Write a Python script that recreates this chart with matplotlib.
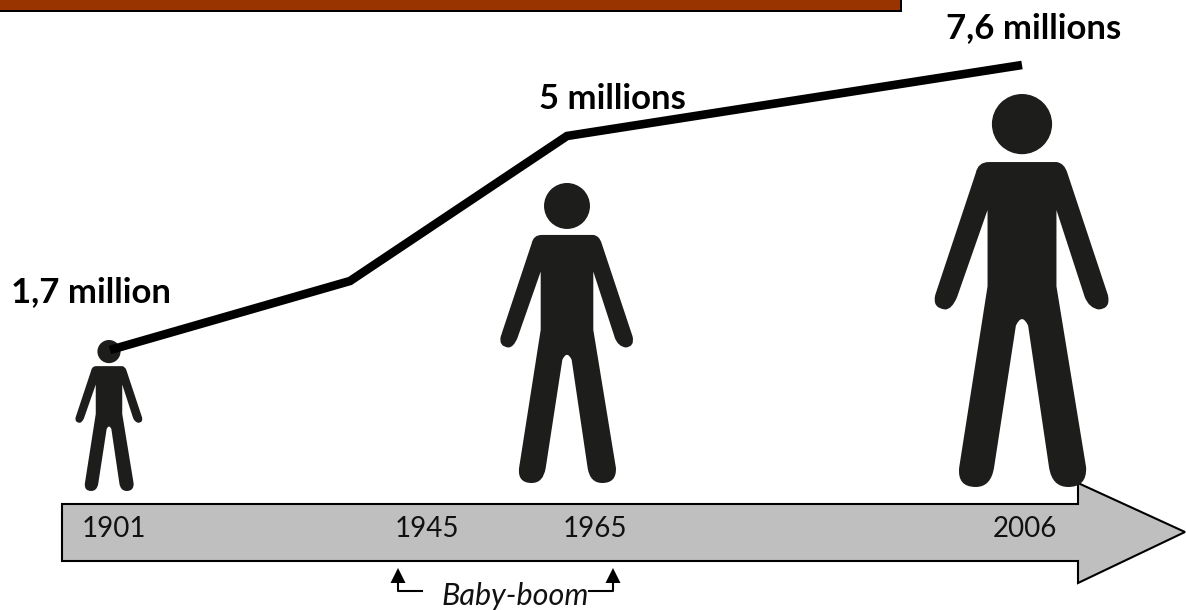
import matplotlib.pyplot as plt
from matplotlib.path import Path
from matplotlib.patches import PathPatch, Polygon, Rectangle, Circle

plt.rcParams['font.family'] = ['Lato', 'DejaVu Sans']

# growth line (pixels of the 1186x610 image)
line_x = [110, 350, 567, 1022]
line_y = [350, 281, 136, 65]

# value labels (x is the centre, y the baseline)
value_labels = ['1,7 million', '5 millions', '7,6 millions']
value_x = [91, 612, 1034]
value_y = [302, 109, 38]

# years on the big arrow
years = ['1901', '1945', '1965', '2006']
year_x = [114, 427, 595, 1025]
year_y = 537

# the three people
person_cx = [109, 567, 1022]
person_top = [340, 183, 94]
person_bottom = [491, 483, 487]

INK = '#1d1d1b'
GREY = '#bfbfbf'
BROWN = '#993300'

# outline of one person, traced at 901 units tall (head top = 0, centre x = 0)
M, L, Q = Path.MOVETO, Path.LINETO, Path.CURVE3
body = [
    (M, -76, 156), (L, 79, 156), (Q, 97, 158), (Q, 104, 181),
    (L, 197, 461), (Q, 204, 492), (Q, 176, 494), (Q, 154, 491), (Q, 144, 466),
    (L, 79, 266), (L, 79, 441), (L, 147, 856), (Q, 149, 901), (Q, 106, 901),
    (Q, 69, 901), (Q, 62, 856), (L, 14, 531), (Q, 0, 501), (Q, -14, 531),
    (L, -64, 856), (Q, -71, 901), (Q, -106, 901), (Q, -149, 901), (Q, -144, 856),
    (L, -79, 441), (L, -79, 266), (L, -149, 466), (Q, -161, 494), (Q, -176, 494),
    (Q, -206, 491), (Q, -199, 461), (L, -106, 181), (Q, -101, 156), (Q, -76, 156),
]
HEAD_Y = 69
HEAD_R = 69
UNITS = 901


def draw_person(ax, cx, top, bottom):
    """Draw one pictogram person between the given top and bottom."""
    s = (bottom - top) / UNITS
    verts = [(cx + x * s, top + y * s) for _, x, y in body]
    codes = [c for c, _, _ in body]
    ax.add_patch(PathPatch(Path(verts, codes), fc=INK, ec='none', zorder=2))
    ax.add_patch(Circle((cx, top + HEAD_Y * s), HEAD_R * s, fc=INK, ec='none', zorder=2))


fig = plt.figure(figsize=(11.86, 6.10), dpi=100)
ax = fig.add_axes([0, 0, 1, 1])
ax.set_xlim(0, 1186)
ax.set_ylim(610, 0)
ax.axis('off')

# title band cut off at the top of the picture
ax.add_patch(Rectangle((-5, -5), 907, 17, fc='black', ec='none'))
ax.add_patch(Rectangle((-5, -5), 905, 15, fc=BROWN, ec='none'))

# big grey arrow
arrow_pts = [(62, 504), (1078, 504), (1078, 483), (1185, 532),
             (1078, 583), (1078, 561), (62, 561)]
ax.add_patch(Polygon(arrow_pts, closed=True, fc=GREY, ec='black', lw=1.5,
                     joinstyle='miter', zorder=1))

for cx, top, bottom in zip(person_cx, person_top, person_bottom):
    draw_person(ax, cx, top, bottom)

ax.plot(line_x, line_y, color='black', lw=6.2, solid_capstyle='butt',
        solid_joinstyle='miter', zorder=3)

for label, x, y in zip(value_labels, value_x, value_y):
    ax.text(x, y, label, fontsize=25, fontweight='bold', color='black',
            ha='center', va='baseline', zorder=4)

for label, x in zip(years, year_x):
    ax.text(x, year_y, label, fontsize=20, color='#111111',
            ha='center', va='baseline', zorder=4)

# baby-boom bracket
ax.plot([422, 398, 398], [591, 591, 580], color='black', lw=1.5, zorder=3)
ax.plot([589, 613, 613], [591, 591, 580], color='black', lw=1.5, zorder=3)
for tip in [398, 613]:
    ax.add_patch(Polygon([(tip, 568), (tip - 7.5, 583), (tip + 7.5, 583)],
                         closed=True, fc='black', ec='none', zorder=3))
ax.text(515, 605, 'Baby-boom', fontsize=22, style='italic', color='#111111',
        ha='center', va='baseline', zorder=4)

plt.savefig('out.png', dpi=100)
